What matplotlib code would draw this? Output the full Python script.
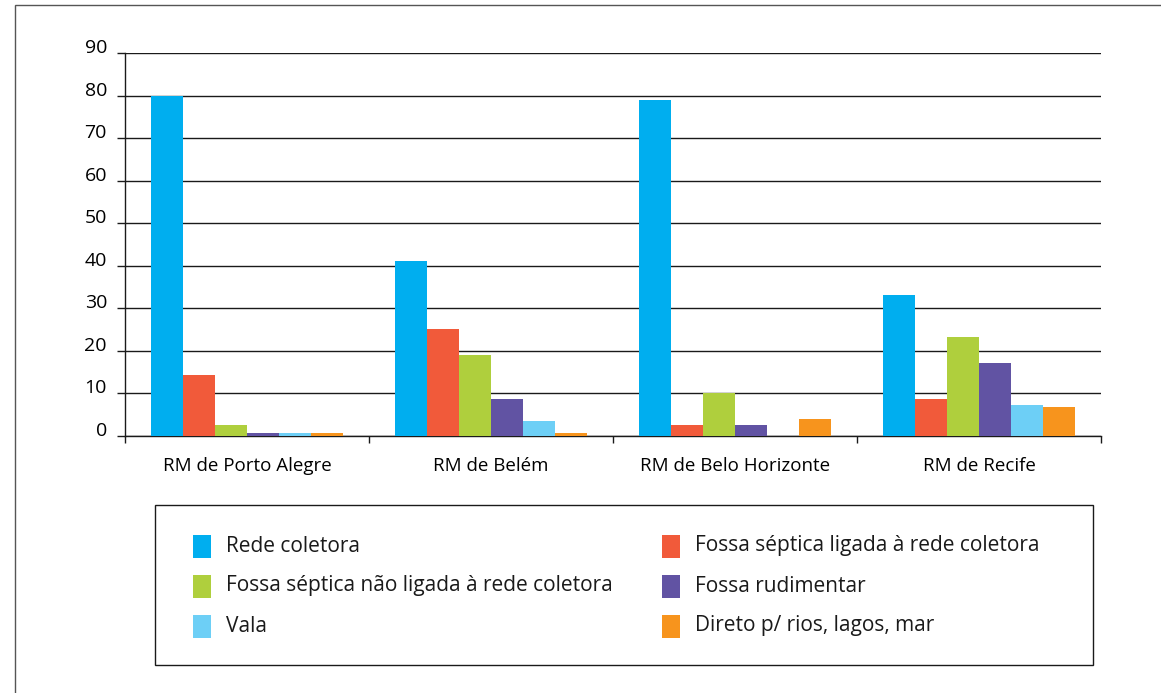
import numpy as np
import matplotlib
matplotlib.use('Agg')
import matplotlib.pyplot as plt
from matplotlib.patches import Rectangle

plt.rcParams['font.family'] = ['Open Sans', 'DejaVu Sans']

regioes = ['RM de Porto Alegre', 'RM de Belém', 'RM de Belo Horizonte', 'RM de Recife']
tipos = ['Rede coletora',
         'Fossa séptica ligada à rede coletora',
         'Fossa séptica não ligada à rede coletora',
         'Fossa rudimentar',
         'Vala',
         'Direto p/ rios, lagos, mar']
cores = ['#00AEEF', '#F15A3A', '#AFCF3D', '#6153A3', '#6DCFF6', '#F7941D']

# percentuais por tipo de esgotamento, na ordem das regiões
rede_coletora = [80.0, 41.1, 79.0, 33.1]
fossa_ligada = [14.3, 25.1, 2.6, 8.7]
fossa_nao_ligada = [2.6, 19.0, 10.1, 23.3]
fossa_rudimentar = [0.7, 8.7, 2.6, 17.2]
vala = [0.7, 3.5, 0.0, 7.3]
direto = [0.7, 0.7, 4.0, 6.8]
series = [rede_coletora, fossa_ligada, fossa_nao_ligada, fossa_rudimentar, vala, direto]

W, H = 1161, 693
fig = plt.figure(figsize=(W / 100, H / 100), dpi=100)


def px(x, y):
    return x / W, 1 - y / H


# moldura externa
fig.add_artist(Rectangle(px(15, 720), 1200 / W, 715 / H, transform=fig.transFigure,
                         fill=False, edgecolor='#555555', lw=1.0))

ax = fig.add_axes([125 / W, 1 - 436 / H, (1101 - 125) / W, (436 - 53) / H])

x = np.arange(len(regioes)) + 0.5
largura = 0.131
for i, (valores, cor) in enumerate(zip(series, cores)):
    ax.bar(x + (i - 2.5) * largura, valores, largura, color=cor, linewidth=0, zorder=3)

ax.set_xlim(0, 4)
ax.set_ylim(0, 90)
ax.set_yticks(range(0, 91, 10))
ax.yaxis.grid(True, color='#1a1a1a', lw=1.0)
ax.set_axisbelow(True)

for s in ['top', 'right']:
    ax.spines[s].set_visible(False)
for s in ['left', 'bottom']:
    ax.spines[s].set_color('#1a1a1a')
    ax.spines[s].set_linewidth(1.0)

ax.tick_params(axis='y', length=6, width=1.0, color='#1a1a1a', pad=7, labelsize=14)
for lbl in ax.get_yticklabels():
    lbl.set_va('baseline')

ax.set_xticks([0, 1, 2, 3, 4])
ax.set_xticklabels([])
ax.set_xticks(x, minor=True)
ax.set_xticklabels(regioes, minor=True)
ax.tick_params(axis='x', which='major', length=5, width=1.0, color='#1a1a1a')
ax.tick_params(axis='x', which='minor', length=0, pad=15, labelsize=13.5)

# legenda em duas colunas
fig.add_artist(Rectangle(px(155, 665), (1093 - 155) / W, (665 - 505) / H,
                         transform=fig.transFigure, fill=False, edgecolor='#1a1a1a', lw=1.0))
col_x = [193, 662]
lin_y = [546, 586, 626]
for k, (nome, cor) in enumerate(zip(tipos, cores)):
    cx = col_x[k % 2]
    cy = lin_y[k // 2]
    fig.add_artist(Rectangle(px(cx, cy + 11.5), 18 / W, 23 / H,
                             transform=fig.transFigure, facecolor=cor, edgecolor='none'))
    fig.text(*px(cx + 33, cy), nome, va='center', ha='left', fontsize=15, color='#1a1a1a')

fig.savefig('out.png', dpi=100)
